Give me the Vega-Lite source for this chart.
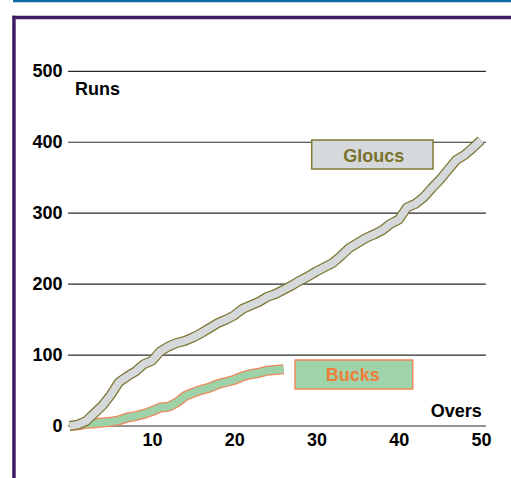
{
  "$schema": "https://vega.github.io/schema/vega-lite/v6.json",
  "width": 511,
  "height": 478,
  "autosize": {"type": "none"},
  "padding": 0,
  "background": "white",
  "config": {"view": {"stroke": null}, "font": "Liberation Sans"},
  "resolve": {"axis": {"x": "independent", "y": "independent"}},
  "datasets": {
    "gloucs": [
      {"over": 0, "runs": 0}, {"over": 1, "runs": 2}, {"over": 2, "runs": 7}, {"over": 3, "runs": 18}, {"over": 4, "runs": 29},
      {"over": 5, "runs": 44}, {"over": 6, "runs": 62}, {"over": 7, "runs": 70}, {"over": 8, "runs": 77}, {"over": 9, "runs": 87},
      {"over": 10, "runs": 92}, {"over": 11, "runs": 105}, {"over": 12, "runs": 112}, {"over": 13, "runs": 117}, {"over": 14, "runs": 120},
      {"over": 15, "runs": 125}, {"over": 16, "runs": 131}, {"over": 17, "runs": 138}, {"over": 18, "runs": 145}, {"over": 19, "runs": 150},
      {"over": 20, "runs": 156}, {"over": 21, "runs": 165}, {"over": 22, "runs": 170}, {"over": 23, "runs": 175}, {"over": 24, "runs": 182},
      {"over": 25, "runs": 186}, {"over": 26, "runs": 192}, {"over": 27, "runs": 198}, {"over": 28, "runs": 205}, {"over": 29, "runs": 211},
      {"over": 30, "runs": 218}, {"over": 31, "runs": 224}, {"over": 32, "runs": 230}, {"over": 33, "runs": 240}, {"over": 34, "runs": 251},
      {"over": 35, "runs": 258}, {"over": 36, "runs": 265}, {"over": 37, "runs": 270}, {"over": 38, "runs": 276}, {"over": 39, "runs": 285},
      {"over": 40, "runs": 291}, {"over": 41, "runs": 308}, {"over": 42, "runs": 313}, {"over": 43, "runs": 322}, {"over": 44, "runs": 335},
      {"over": 45, "runs": 347}, {"over": 46, "runs": 361}, {"over": 47, "runs": 375}, {"over": 48, "runs": 382}, {"over": 49, "runs": 392},
      {"over": 50, "runs": 403}
    ],
    "bucks": [
      {"over": 0, "runs": 0}, {"over": 1, "runs": 1}, {"over": 2, "runs": 3}, {"over": 3, "runs": 4}, {"over": 4, "runs": 5},
      {"over": 5, "runs": 6}, {"over": 6, "runs": 8}, {"over": 7, "runs": 12}, {"over": 8, "runs": 14}, {"over": 9, "runs": 17},
      {"over": 10, "runs": 21}, {"over": 11, "runs": 26}, {"over": 12, "runs": 27}, {"over": 13, "runs": 33}, {"over": 14, "runs": 42},
      {"over": 15, "runs": 47}, {"over": 16, "runs": 51}, {"over": 17, "runs": 54}, {"over": 18, "runs": 59}, {"over": 19, "runs": 62},
      {"over": 20, "runs": 65}, {"over": 21, "runs": 70}, {"over": 22, "runs": 73}, {"over": 23, "runs": 75}, {"over": 24, "runs": 78},
      {"over": 25, "runs": 79}, {"over": 26, "runs": 80}
    ],
    "grid": [{"v": 0}, {"v": 100}, {"v": 200}, {"v": 300}, {"v": 400}, {"v": 500}]
  },
  "layer": [
    {
      "data": {"name": "grid"},
      "mark": {"type": "rule", "color": "#2a2a2a", "strokeWidth": 1.2},
      "encoding": {
        "x": {"datum": -0.2, "type": "quantitative", "scale": {"domain": [-8.48, 53.65], "nice": false, "zero": false}, "axis": null},
        "x2": {"datum": 50.6},
        "y": {"field": "v", "type": "quantitative", "scale": {"domain": [-73.3, 600.5], "nice": false, "zero": false}, "axis": null}
      }
    },
    {
      "data": {"name": "bucks"},
      "mark": {"type": "line", "color": "#f0875a", "strokeWidth": 10, "strokeJoin": "round"},
      "encoding": {
        "x": {"field": "over", "type": "quantitative", "scale": {"domain": [-8.48, 53.65], "nice": false, "zero": false}, "axis": null},
        "y": {"field": "runs", "type": "quantitative", "scale": {"domain": [-73.3, 600.5], "nice": false, "zero": false}, "axis": null}
      }
    },
    {
      "data": {"name": "bucks"},
      "mark": {"type": "line", "color": "#9dd1a8", "strokeWidth": 7.5, "strokeJoin": "round"},
      "encoding": {
        "x": {"field": "over", "type": "quantitative", "scale": {"domain": [-8.48, 53.65], "nice": false, "zero": false}, "axis": null},
        "y": {"field": "runs", "type": "quantitative", "scale": {"domain": [-73.3, 600.5], "nice": false, "zero": false}, "axis": null}
      }
    },
    {
      "data": {"name": "gloucs"},
      "mark": {"type": "line", "color": "#7d7530", "strokeWidth": 10, "strokeJoin": "round"},
      "encoding": {
        "x": {"field": "over", "type": "quantitative", "scale": {"domain": [-8.48, 53.65], "nice": false, "zero": false}, "axis": null},
        "y": {"field": "runs", "type": "quantitative", "scale": {"domain": [-73.3, 600.5], "nice": false, "zero": false}, "axis": null}
      }
    },
    {
      "data": {"name": "gloucs"},
      "mark": {"type": "line", "color": "#d5d9dc", "strokeWidth": 7.5, "strokeJoin": "round"},
      "encoding": {
        "x": {"field": "over", "type": "quantitative", "scale": {"domain": [-8.48, 53.65], "nice": false, "zero": false},
          "axis": {"values": [10, 20, 30, 40, 50], "offset": -52, "domain": false, "ticks": false, "grid": false, "labelPadding": 5,
            "labelFontSize": 18, "labelFontWeight": "bold", "labelColor": "#000000", "labelFont": "Liberation Sans", "title": null}},
        "y": {"field": "runs", "type": "quantitative", "scale": {"domain": [-73.3, 600.5], "nice": false, "zero": false},
          "axis": {"values": [0, 100, 200, 300, 400, 500], "offset": -70, "domain": false, "ticks": false, "grid": false, "labelPadding": 8,
            "labelFontSize": 18, "labelFontWeight": "bold", "labelColor": "#000000", "labelFont": "Liberation Sans", "title": null}}
      }
    },
    {
      "data": {"values": [{}]},
      "mark": {"type": "rect", "fill": "#d5d9dc", "stroke": "#807a32", "strokeWidth": 1.5},
      "encoding": {
        "x": {"datum": 29.42, "type": "quantitative", "scale": {"domain": [-8.48, 53.65], "nice": false, "zero": false}, "axis": null},
        "x2": {"datum": 44.17},
        "y": {"datum": 403.2, "type": "quantitative", "scale": {"domain": [-73.3, 600.5], "nice": false, "zero": false}, "axis": null},
        "y2": {"datum": 362.3}
      }
    },
    {
      "data": {"values": [{}]},
      "mark": {"type": "rect", "fill": "#9fd3a9", "stroke": "#f08a5a", "strokeWidth": 1.5},
      "encoding": {
        "x": {"datum": 27.39, "type": "quantitative", "scale": {"domain": [-8.48, 53.65], "nice": false, "zero": false}, "axis": null},
        "x2": {"datum": 41.7},
        "y": {"datum": 93.0, "type": "quantitative", "scale": {"domain": [-73.3, 600.5], "nice": false, "zero": false}, "axis": null},
        "y2": {"datum": 52.2}
      }
    },
    {
      "data": {"values": [{"label": "Gloucs"}]},
      "mark": {"type": "text", "align": "center", "baseline": "alphabetic", "fontSize": 18, "fontWeight": "bold", "color": "#7a7228", "font": "Liberation Sans"},
      "encoding": {
        "text": {"field": "label"},
        "x": {"datum": 36.96, "type": "quantitative", "scale": {"domain": [-8.48, 53.65], "nice": false, "zero": false}, "axis": null},
        "y": {"datum": 372.6, "type": "quantitative", "scale": {"domain": [-73.3, 600.5], "nice": false, "zero": false}, "axis": null}
      }
    },
    {
      "data": {"values": [{"label": "Bucks"}]},
      "mark": {"type": "text", "align": "center", "baseline": "alphabetic", "fontSize": 18, "fontWeight": "bold", "color": "#ee7d3a", "font": "Liberation Sans"},
      "encoding": {
        "text": {"field": "label"},
        "x": {"datum": 34.41, "type": "quantitative", "scale": {"domain": [-8.48, 53.65], "nice": false, "zero": false}, "axis": null},
        "y": {"datum": 63.9, "type": "quantitative", "scale": {"domain": [-73.3, 600.5], "nice": false, "zero": false}, "axis": null}
      }
    },
    {
      "data": {"values": [{"label": "Runs"}]},
      "mark": {"type": "text", "align": "left", "baseline": "alphabetic", "fontSize": 18, "fontWeight": "bold", "color": "#000000", "font": "Liberation Sans"},
      "encoding": {
        "text": {"field": "label"},
        "x": {"datum": 0.64, "type": "quantitative", "scale": {"domain": [-8.48, 53.65], "nice": false, "zero": false}, "axis": null},
        "y": {"datum": 466.6, "type": "quantitative", "scale": {"domain": [-73.3, 600.5], "nice": false, "zero": false}, "axis": null}
      }
    },
    {
      "data": {"values": [{"label": "Overs"}]},
      "mark": {"type": "text", "align": "right", "baseline": "alphabetic", "fontSize": 18, "fontWeight": "bold", "color": "#000000", "font": "Liberation Sans"},
      "encoding": {
        "text": {"field": "label"},
        "x": {"datum": 50.09, "type": "quantitative", "scale": {"domain": [-8.48, 53.65], "nice": false, "zero": false}, "axis": null},
        "y": {"datum": 13.1, "type": "quantitative", "scale": {"domain": [-73.3, 600.5], "nice": false, "zero": false}, "axis": null}
      }
    },
    {
      "data": {"values": [{}]},
      "mark": {"type": "rule", "color": "#0b69aa", "strokeWidth": 3},
      "encoding": {
        "x": {"datum": -6.9, "type": "quantitative", "scale": {"domain": [-8.48, 53.65], "nice": false, "zero": false}, "axis": null},
        "x2": {"datum": 53.65},
        "y": {"datum": 599.6, "type": "quantitative", "scale": {"domain": [-73.3, 600.5], "nice": false, "zero": false}, "axis": null}
      }
    },
    {
      "data": {"values": [{}]},
      "mark": {"type": "rule", "color": "#3e1b5e", "strokeWidth": 3.5},
      "encoding": {
        "x": {"datum": -6.95, "type": "quantitative", "scale": {"domain": [-8.48, 53.65], "nice": false, "zero": false}, "axis": null},
        "x2": {"datum": 53.65},
        "y": {"datum": 575.9, "type": "quantitative", "scale": {"domain": [-73.3, 600.5], "nice": false, "zero": false}, "axis": null}
      }
    },
    {
      "data": {"values": [{}]},
      "mark": {"type": "rule", "color": "#3e1b5e", "strokeWidth": 3.5},
      "encoding": {
        "x": {"datum": -6.78, "type": "quantitative", "scale": {"domain": [-8.48, 53.65], "nice": false, "zero": false}, "axis": null},
        "y": {"datum": 578.3, "type": "quantitative", "scale": {"domain": [-73.3, 600.5], "nice": false, "zero": false}, "axis": null},
        "y2": {"datum": -73.3}
      }
    },
    {
      "data": {"values": [{}]},
      "mark": {"type": "rule", "color": "#7e5c9c", "strokeWidth": 1},
      "encoding": {
        "x": {"datum": -6.6, "type": "quantitative", "scale": {"domain": [-8.48, 53.65], "nice": false, "zero": false}, "axis": null},
        "y": {"datum": 574.0, "type": "quantitative", "scale": {"domain": [-73.3, 600.5], "nice": false, "zero": false}, "axis": null},
        "y2": {"datum": -73.3}
      }
    }
  ]
}
